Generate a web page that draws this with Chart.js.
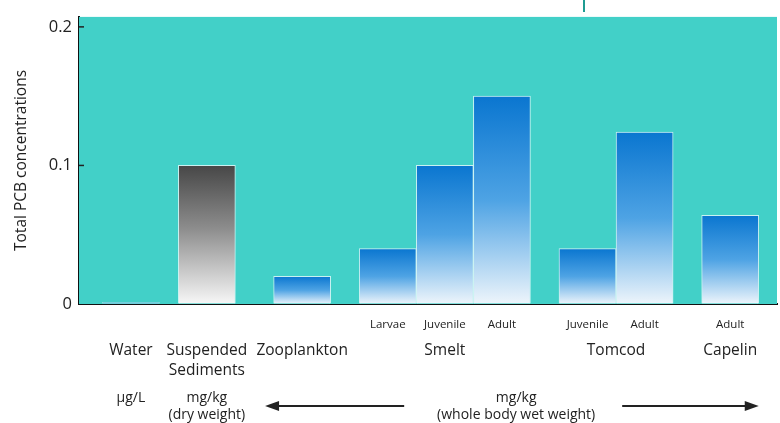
<!DOCTYPE html>
<html>
<head>
<meta charset="utf-8">
<script src="https://cdn.jsdelivr.net/npm/chart.js@4.4.1/dist/chart.umd.min.js"></script>
<style>
  html, body { margin: 0; padding: 0; background: #fff; }
  #wrap { position: relative; width: 780px; height: 423px; }
</style>
</head>
<body>
<div id="wrap"><canvas id="pcbChart"></canvas></div>
<script>
// PCB concentrations by compartment / organism
const groups = ['Water', 'Suspended\nSediments', 'Zooplankton', 'Smelt', 'Tomcod', 'Capelin'];
const stages = [[''], [''], [''], ['Larvae', 'Juvenile', 'Adult'], ['Juvenile', 'Adult'], ['Adult']];
const pcbValues = [[0.001], [0.1], [0.02], [0.04, 0.1, 0.15], [0.04, 0.124], [0.064]];
const yTicks = [0, 0.1, 0.2];
const unitLabels = ['µg/L', 'mg/kg\n(dry weight)', 'mg/kg\n(whole body wet weight)'];

// spacing (in bar widths) inserted before each group
const groupGap = [0, 0.33, 0.67, 0.5, 0.5, 0.5];
const groupTone = ['blue', 'grey', 'blue', 'blue', 'blue', 'blue'];

const FONT = '"Open Sans", "Noto Sans", sans-serif';
const TEAL = '#42d0c8';
const TEXT = '#222';

// lay the bars out along a linear axis
const points = [];
const groupSpan = [];
let pos = -1;
groups.forEach((g, gi) => {
  pos += groupGap[gi];
  const first = pos + 1;
  stages[gi].forEach((s, si) => {
    pos += 1;
    points.push({ x: pos, y: pcbValues[gi][si], stage: s, tone: groupTone[gi] });
  });
  groupSpan.push([first, pos]);
});

function barFill(ctx) {
  const chart = ctx.chart;
  if (!chart.chartArea || ctx.type !== 'data') return '#1a7fd4';
  const y = chart.scales.y;
  const top = y.getPixelForValue(ctx.raw.y);
  const base = y.getPixelForValue(0);
  const g = chart.ctx.createLinearGradient(0, top, 0, base);
  if (ctx.raw.tone === 'grey') {
    g.addColorStop(0, '#474747');
    g.addColorStop(0.45, '#8c8c8c');
    g.addColorStop(1, '#f7f7f7');
  } else {
    g.addColorStop(0, '#0a76d0');
    g.addColorStop(0.5, '#4ea3e4');
    g.addColorStop(1, '#eef5fb');
  }
  return g;
}

const tealBackdrop = {
  id: 'tealBackdrop',
  beforeDatasetsDraw(chart) {
    const { ctx, chartArea: a } = chart;
    ctx.save();
    ctx.fillStyle = TEAL;
    ctx.fillRect(a.left, a.top, a.right - a.left, a.bottom - a.top);
    ctx.restore();
  }
};

function arrow(ctx, x1, x2, y) {
  // line from x1 to the tip at x2
  const dir = Math.sign(x2 - x1);
  ctx.beginPath();
  ctx.moveTo(x1, y);
  ctx.lineTo(x2 - dir * 10, y);
  ctx.stroke();
  ctx.beginPath();
  ctx.moveTo(x2, y);
  ctx.lineTo(x2 - dir * 14, y - 5);
  ctx.lineTo(x2 - dir * 14, y + 5);
  ctx.closePath();
  ctx.fill();
}

const bottomLabels = {
  id: 'bottomLabels',
  afterDraw(chart) {
    const { ctx, chartArea: a } = chart;
    const x = chart.scales.x;
    const y = chart.scales.y;
    ctx.save();
    ctx.fillStyle = TEXT;
    ctx.strokeStyle = TEXT;
    ctx.textAlign = 'center';
    ctx.textBaseline = 'middle';

    // inner tick marks on the value axis
    ctx.lineWidth = 1.5;
    yTicks.slice(1).forEach(v => {
      const py = y.getPixelForValue(v);
      ctx.beginPath();
      ctx.moveTo(a.left, py);
      ctx.lineTo(a.left + 5, py);
      ctx.stroke();
    });

    // life stage row
    ctx.font = '11.5px ' + FONT;
    points.forEach(p => {
      if (p.stage) ctx.fillText(p.stage, x.getPixelForValue(p.x), a.bottom + 21);
    });

    // group row
    ctx.font = '15.5px ' + FONT;
    groups.forEach((g, gi) => {
      const cx = x.getPixelForValue((groupSpan[gi][0] + groupSpan[gi][1]) / 2);
      g.split('\n').forEach((line, li) => ctx.fillText(line, cx, a.bottom + 47 + li * 20));
    });

    // units row
    ctx.font = '14px ' + FONT;
    const unitY = a.bottom + 94;
    const unitX = [
      x.getPixelForValue(groupSpan[0][0]),
      x.getPixelForValue(groupSpan[1][0]),
      x.getPixelForValue((groupSpan[2][0] + groupSpan[5][1]) / 2)
    ];
    unitLabels.forEach((u, i) => {
      u.split('\n').forEach((line, li) => ctx.fillText(line, unitX[i], unitY + li * 17));
    });

    // arrows spanning the wet-weight organisms
    ctx.lineWidth = 2;
    const mid = unitX[2];
    arrow(ctx, mid - 112, x.getPixelForValue(groupSpan[2][0] - 0.65), unitY + 8);
    arrow(ctx, mid + 106, x.getPixelForValue(groupSpan[5][1] + 0.5), unitY + 8);

    // fragment of the heading above the plot
    ctx.strokeStyle = '#1f9c92';
    ctx.lineWidth = 2;
    ctx.beginPath();
    ctx.moveTo(584, 0);
    ctx.lineTo(584, 12);
    ctx.stroke();
    ctx.restore();
  }
};

new Chart(document.getElementById('pcbChart'), {
  type: 'bar',
  data: {
    datasets: [{
      data: points,
      backgroundColor: barFill,
      borderColor: 'rgba(225, 248, 248, 0.85)',
      borderWidth: 1,
      borderSkipped: 'bottom',
      barPercentage: 1,
      categoryPercentage: 1
    }]
  },
  options: {
    responsive: true,
    maintainAspectRatio: false,
    animation: false,
    layout: { padding: { top: 15, right: 3, bottom: 119, left: 0 } },
    plugins: {
      legend: { display: false },
      tooltip: { enabled: false }
    },
    scales: {
      x: {
        type: 'linear',
        offset: false,
        min: -0.91,
        max: 11.32,
        ticks: { display: false },
        grid: { drawOnChartArea: false, drawTicks: false, offset: false },
        border: { color: '#111', width: 2 }
      },
      y: {
        min: 0,
        max: 0.2072,
        afterBuildTicks: s => { s.ticks = yTicks.map(v => ({ value: v })); },
        afterFit: s => { s.width = 79; },
        ticks: {
          color: TEXT,
          padding: 7,
          font: { family: FONT, size: 16.5 },
          callback: v => String(v)
        },
        grid: { drawOnChartArea: false, drawTicks: false },
        border: { color: '#111', width: 2 },
        title: {
          display: true,
          text: 'Total PCB concentrations',
          color: TEXT,
          font: { family: FONT, size: 15.5 },
          padding: { top: 12, bottom: 4 }
        }
      }
    }
  },
  plugins: [tealBackdrop, bottomLabels]
});
</script>
</body>
</html>
